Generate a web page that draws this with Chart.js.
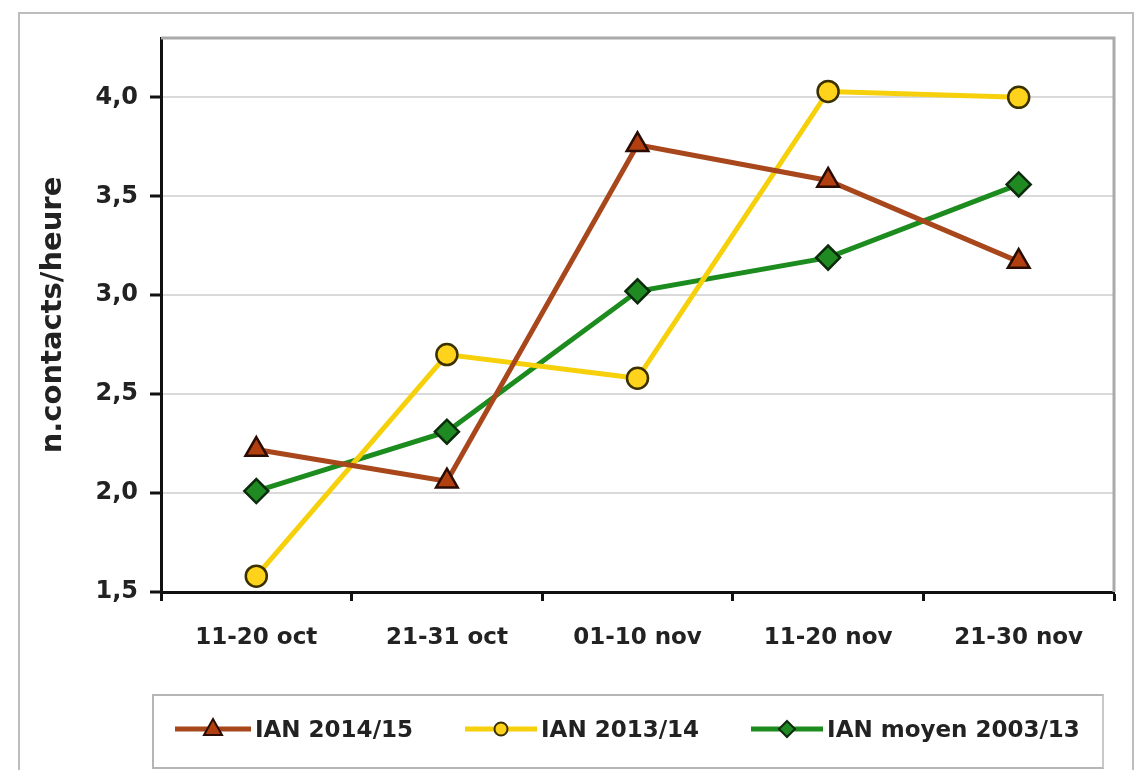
<html>
<head>
<title>IAN contacts/heure</title>
<style>
html, body {
  margin:0px;
  width:1140px;
  height:770px;
  overflow:hidden;
  background:#fff;
}
#frame {
  position:absolute; left:18px; top:12px; width:1116px; height:800px;
  box-sizing:border-box; border:2px solid #bdbdbd;
}
#myChart { position:absolute; left:0; top:0; }
#legend {
  position:absolute; left:152px; top:694px; width:952px; height:75px;
  box-sizing:border-box; border:2px solid #b5b5b5; border-right-color:#c8c8c8;
  display:flex; align-items:center; padding-left:21px; padding-bottom:6px;
  font-family:"DejaVu Sans", sans-serif; font-weight:bold; font-size:23px; color:#222;
  white-space:nowrap;
}
.item { display:flex; align-items:center; margin-right:52px; flex-shrink:0; }
.item canvas { margin-right:4px; }
</style>
<script src="https://cdn.jsdelivr.net/npm/chart.js@4/dist/chart.umd.min.js"></script>
</head>
<body>
<div id="frame"></div>
<canvas id="myChart" width="1140" height="770"></canvas>
<div id="legend"></div>
<script>
// data
const categories = ['11-20 oct', '21-31 oct', '01-10 nov', '11-20 nov', '21-30 nov'];
const ian1415 = [2.22, 2.06, 3.76, 3.58, 3.17];
const ian1314 = [1.58, 2.70, 2.58, 4.03, 4.00];
const ianMoyen = [2.01, 2.31, 3.02, 3.19, 3.56];
const yTicks = [1.5, 2.0, 2.5, 3.0, 3.5, 4.0];

const tickFont = {family: 'DejaVu Sans', weight: 'bold', size: 23};

// grey frame on top and right of the plot area (left/bottom are the axes)
const plotFrame = {
  id: 'plotFrame',
  beforeDatasetsDraw(chart) {
    const {ctx, chartArea: a} = chart;
    ctx.save();
    ctx.strokeStyle = '#aaaaaa';
    ctx.lineWidth = 3;
    ctx.beginPath();
    ctx.moveTo(a.left, a.top);
    ctx.lineTo(a.right, a.top);
    ctx.lineTo(a.right, a.bottom);
    ctx.stroke();
    ctx.restore();
  }
};

// little icon: line segment with the marker in the middle
function makeIcon(ds, w) {
  const c = document.createElement('canvas');
  c.width = w; c.height = 26;
  const g = c.getContext('2d');
  const cy = 13, cx = w / 2;
  g.strokeStyle = ds.borderColor;
  g.lineWidth = 5;
  g.beginPath(); g.moveTo(0, cy); g.lineTo(w, cy); g.stroke();
  g.fillStyle = ds.pointBackgroundColor;
  g.strokeStyle = ds.pointBorderColor;
  g.lineWidth = 2;
  g.beginPath();
  if (ds.pointStyle === 'triangle') {
    g.moveTo(cx, cy - 10); g.lineTo(cx + 9, cy + 6); g.lineTo(cx - 9, cy + 6); g.closePath();
  } else if (ds.pointStyle === 'rectRot') {
    g.moveTo(cx, cy - 8); g.lineTo(cx + 8, cy); g.lineTo(cx, cy + 8); g.lineTo(cx - 8, cy); g.closePath();
  } else {
    g.arc(cx, cy, 6.5, 0, Math.PI * 2);
  }
  g.fill(); g.stroke();
  return c;
}

const htmlLegend = {
  id: 'htmlLegend',
  afterUpdate(chart) {
    const box = document.getElementById('legend');
    box.innerHTML = '';
    chart.data.datasets.forEach((ds, i) => {
      const item = document.createElement('div');
      item.className = 'item';
      item.appendChild(makeIcon(ds, i === 0 ? 76 : 72));
      const t = document.createElement('span');
      t.textContent = ds.label;
      item.appendChild(t);
      box.appendChild(item);
    });
  }
};

const ctx = document.getElementById('myChart');
const myChart = new Chart(ctx, {
  type: 'line',
  data: {
    labels: categories,
    datasets: [{
      label: 'IAN 2014/15',
      data: ian1415,
      borderColor: '#a8461c',
      pointBackgroundColor: '#b23f10',
      pointBorderColor: '#2a0c02',
      pointStyle: 'triangle',
      pointRadius: 12.5
    }, {
      label: 'IAN 2013/14',
      data: ian1314,
      borderColor: '#f6d00a',
      pointBackgroundColor: '#ffd21c',
      pointBorderColor: '#3a3000',
      pointStyle: 'circle',
      pointRadius: 10.5
    }, {
      label: 'IAN moyen 2003/13',
      data: ianMoyen,
      borderColor: '#1c8c1e',
      pointBackgroundColor: '#1f8a22',
      pointBorderColor: '#0c2a0c',
      pointStyle: 'rectRot',
      pointRadius: 12
    }]
  },
  options: {
    responsive: false,
    animation: false,
    layout: {padding: {left: 20, top: 38, right: 26, bottom: 100}},
    elements: {
      line: {borderWidth: 5, tension: 0, fill: false},
      point: {borderWidth: 2.5, hoverRadius: 12}
    },
    plugins: {
      legend: {display: false},
      tooltip: {enabled: false}
    },
    scales: {
      x: {
        offset: true,
        grid: {display: true, drawOnChartArea: false, offset: true, tickLength: 9, tickColor: '#111', tickWidth: 3},
        border: {color: '#111', width: 3},
        ticks: {color: '#222', font: tickFont, padding: 23},
        afterFit(s) { s.height = 78; }
      },
      y: {
        min: 1.5,
        max: 4.3,
        afterBuildTicks(s) { s.ticks = yTicks.map(v => ({value: v})); },
        grid: {color: '#dadada', lineWidth: 2, tickLength: 11, tickColor: '#111', tickWidth: 3},
        border: {color: '#111', width: 3},
        ticks: {
          color: '#222',
          font: {family: 'DejaVu Sans', weight: 'bold', size: 24},
          padding: 12,
          callback: v => v.toFixed(1).replace('.', ',')
        },
        title: {
          display: true,
          text: 'n.contacts/heure',
          color: '#222',
          font: {family: 'DejaVu Sans', weight: 'bold', size: 29},
          padding: {top: 16, bottom: 0}
        },
        afterFit(s) { s.width = 141; }
      }
    }
  },
  plugins: [plotFrame, htmlLegend]
});
</script>
</body>
</html>
